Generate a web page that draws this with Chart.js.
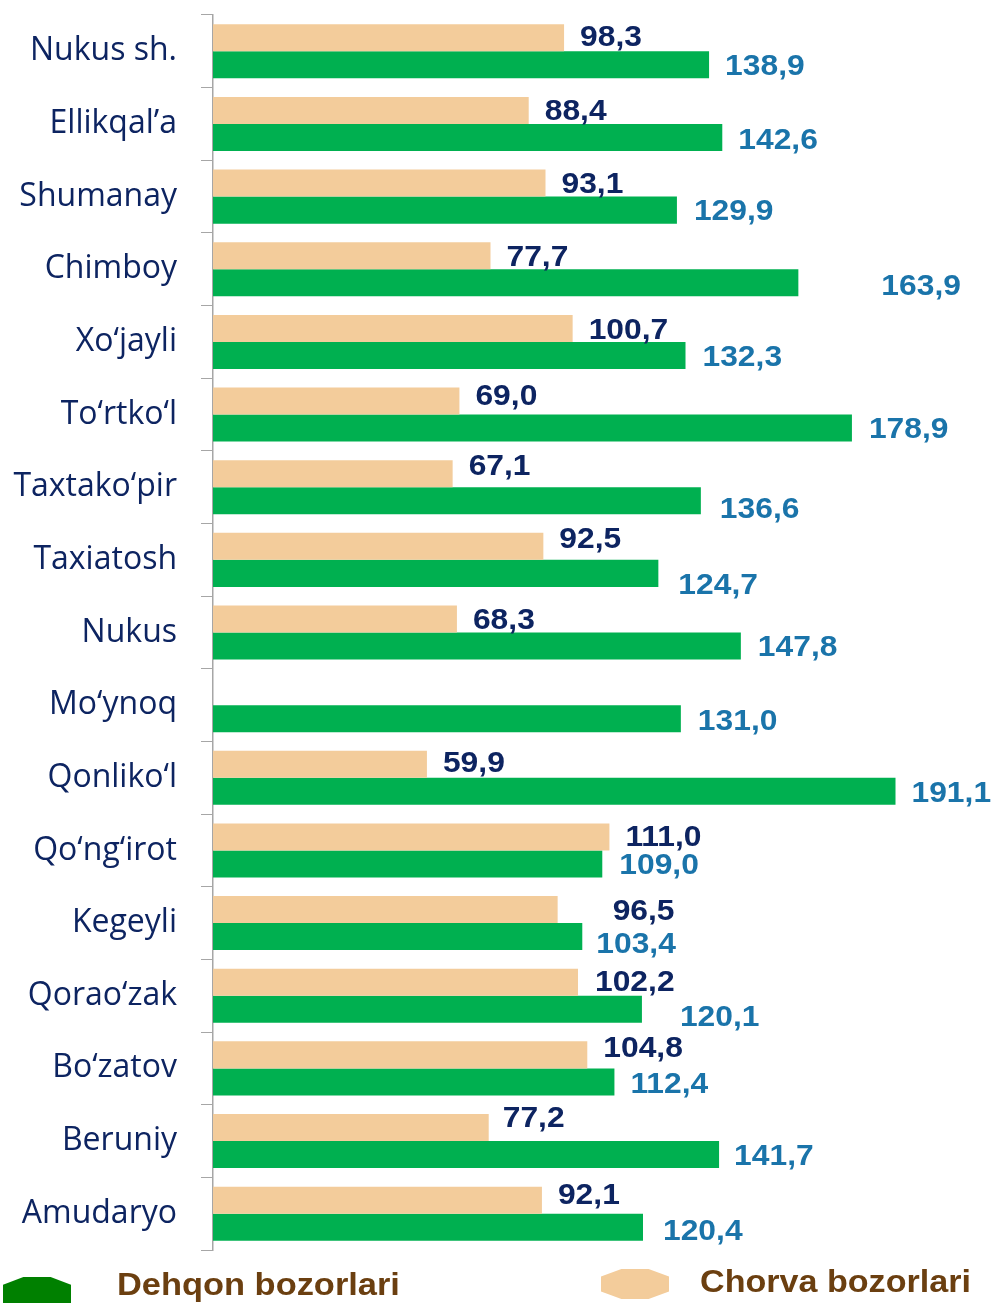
<!DOCTYPE html>
<html>
<head>
<meta charset="utf-8">
<script src="https://cdn.jsdelivr.net/npm/chart.js@4/dist/chart.umd.min.js"></script>
<style>
  html, body { margin: 0; padding: 0; background: #ffffff; }
  #wrap { width: 991px; height: 1303px; }
</style>
</head>
<body>
<div id="wrap"><canvas id="c" width="991" height="1303"></canvas></div>
<script>
const categories = ["Nukus sh.", "Ellikqal\u2019a", "Shumanay", "Chimboy", "Xo\u2018jayli", "To\u2018rtko\u2018l", "Taxtako\u2018pir", "Taxiatosh", "Nukus", "Mo\u2018ynoq", "Qonliko\u2018l", "Qo\u2018ng\u2018irot", "Kegeyli", "Qorao\u2018zak", "Bo\u2018zatov", "Beruniy", "Amudaryo"];
const chorvaValues = [98.3, 88.4, 93.1, 77.7, 100.7, 69.0, 67.1, 92.5, 68.3, null, 59.9, 111.0, 96.5, 102.2, 104.8, 77.2, 92.1];
const dehqonValues = [138.9, 142.6, 129.9, 163.9, 132.3, 178.9, 136.6, 124.7, 147.8, 131.0, 191.1, 109.0, 103.4, 120.1, 112.4, 141.7, 120.4];
const seriesNames = ["Dehqon bozorlari", "Chorva bozorlari"];

// label nudges (pixels) relative to the end of each bar: [dx, dy]
const chorvaNudge = [[16,0],[16,1],[16,2],[16,2],[16,2],[16,-4],[16,-7],[16,-7],[16,2],[16,0],[16,-1],[16,1],[55,2],[17,1],[16,-6],[14,-9],[16,-4]];
const dehqonNudge = [[16,2],[16,3],[17,2],[83,4],[17,2],[17,2],[19,9],[20,12],[17,2],[17,3],[16,2],[17,2],[14,8],[38,8],[16,3],[15,2],[20,5]];

const fmt = v => v.toFixed(1).replace('.', ',');

const TAN = '#F3CC9B';
const GREEN = '#00B050';

function stretchedText(ctx, text, x, y, sx) {
  ctx.save();
  ctx.translate(x, y);
  ctx.scale(sx, 1);
  ctx.fillText(text, 0, 0);
  ctx.restore();
}

const valueLabels = {
  id: 'valueLabels',
  afterDatasetsDraw(chart) {
    const ctx = chart.ctx;
    ctx.save();
    ctx.font = 'bold 30px "Liberation Sans", Arial, sans-serif';
    ctx.textBaseline = 'middle';
    ctx.textAlign = 'left';
    chart.data.datasets.forEach((ds, di) => {
      const meta = chart.getDatasetMeta(di);
      const nudge = di === 0 ? chorvaNudge : dehqonNudge;
      ctx.fillStyle = di === 0 ? '#0D2461' : '#1A74AA';
      meta.data.forEach((bar, i) => {
        const v = ds.data[i];
        if (v === null || v === undefined) return;
        stretchedText(ctx, fmt(v), bar.x + nudge[i][0], bar.y + nudge[i][1], 1.06);
      });
    });
    ctx.restore();
  }
};

const customLegend = {
  id: 'customLegend',
  afterDraw(chart) {
    const ctx = chart.ctx;
    const shape = (x, y, w, h, color) => {
      ctx.beginPath();
      ctx.moveTo(x, y + h * 0.3);
      ctx.lineTo(x + w * 0.3, y);
      ctx.lineTo(x + w * 0.7, y);
      ctx.lineTo(x + w, y + h * 0.3);
      ctx.lineTo(x + w, y + h);
      ctx.lineTo(x, y + h);
      ctx.closePath();
      ctx.fillStyle = color;
      ctx.fill();
    };
    const shape2 = (x, y, w, h, color) => {
      ctx.beginPath();
      ctx.moveTo(x, y + h * 0.25);
      ctx.lineTo(x + w * 0.3, y);
      ctx.lineTo(x + w * 0.7, y);
      ctx.lineTo(x + w, y + h * 0.25);
      ctx.lineTo(x + w, y + h * 0.75);
      ctx.lineTo(x + w * 0.7, y + h);
      ctx.lineTo(x + w * 0.3, y + h);
      ctx.lineTo(x, y + h * 0.75);
      ctx.closePath();
      ctx.fillStyle = color;
      ctx.fill();
    };
    ctx.save();
    shape(3, 1277, 68, 26, '#008000');
    shape2(601, 1269, 68, 30, TAN);
    ctx.font = 'bold 31px "Liberation Sans", Arial, sans-serif';
    ctx.fillStyle = '#6B3F10';
    ctx.textBaseline = 'middle';
    ctx.textAlign = 'left';
    stretchedText(ctx, seriesNames[0], 117, 1286, 1.11);
    stretchedText(ctx, seriesNames[1], 700, 1283, 1.1);
    ctx.restore();
  }
};

new Chart(document.getElementById('c'), {
  type: 'bar',
  data: {
    labels: categories,
    datasets: [
      { label: seriesNames[1], data: chorvaValues, backgroundColor: TAN, barPercentage: 1.0, categoryPercentage: 0.744 },
      { label: seriesNames[0], data: dehqonValues, backgroundColor: GREEN, barPercentage: 1.0, categoryPercentage: 0.744 }
    ]
  },
  options: {
    indexAxis: 'y',
    responsive: false,
    animation: false,
    events: [],
    layout: { padding: { top: 15, right: 28, bottom: 53, left: 0 } },
    plugins: { legend: { display: false }, tooltip: { enabled: false } },
    scales: {
      x: { display: false, min: 0, max: 210 },
      y: {
        afterFit(scale) { scale.paddingTop = 0; scale.paddingBottom = 0; scale.width = 213; },
        grid: { display: true, drawOnChartArea: false, drawTicks: true, tickLength: 12, color: '#A6A6A6', offset: true },
        border: { display: true, color: '#A6A6A6', width: 1.5 },
        ticks: { color: '#0D2461', font: { family: '"Open Sans", "Noto Sans", sans-serif', size: 32 }, padding: 24, autoSkip: false }
      }
    }
  },
  plugins: [valueLabels, customLegend]
});
</script>
</body>
</html>
